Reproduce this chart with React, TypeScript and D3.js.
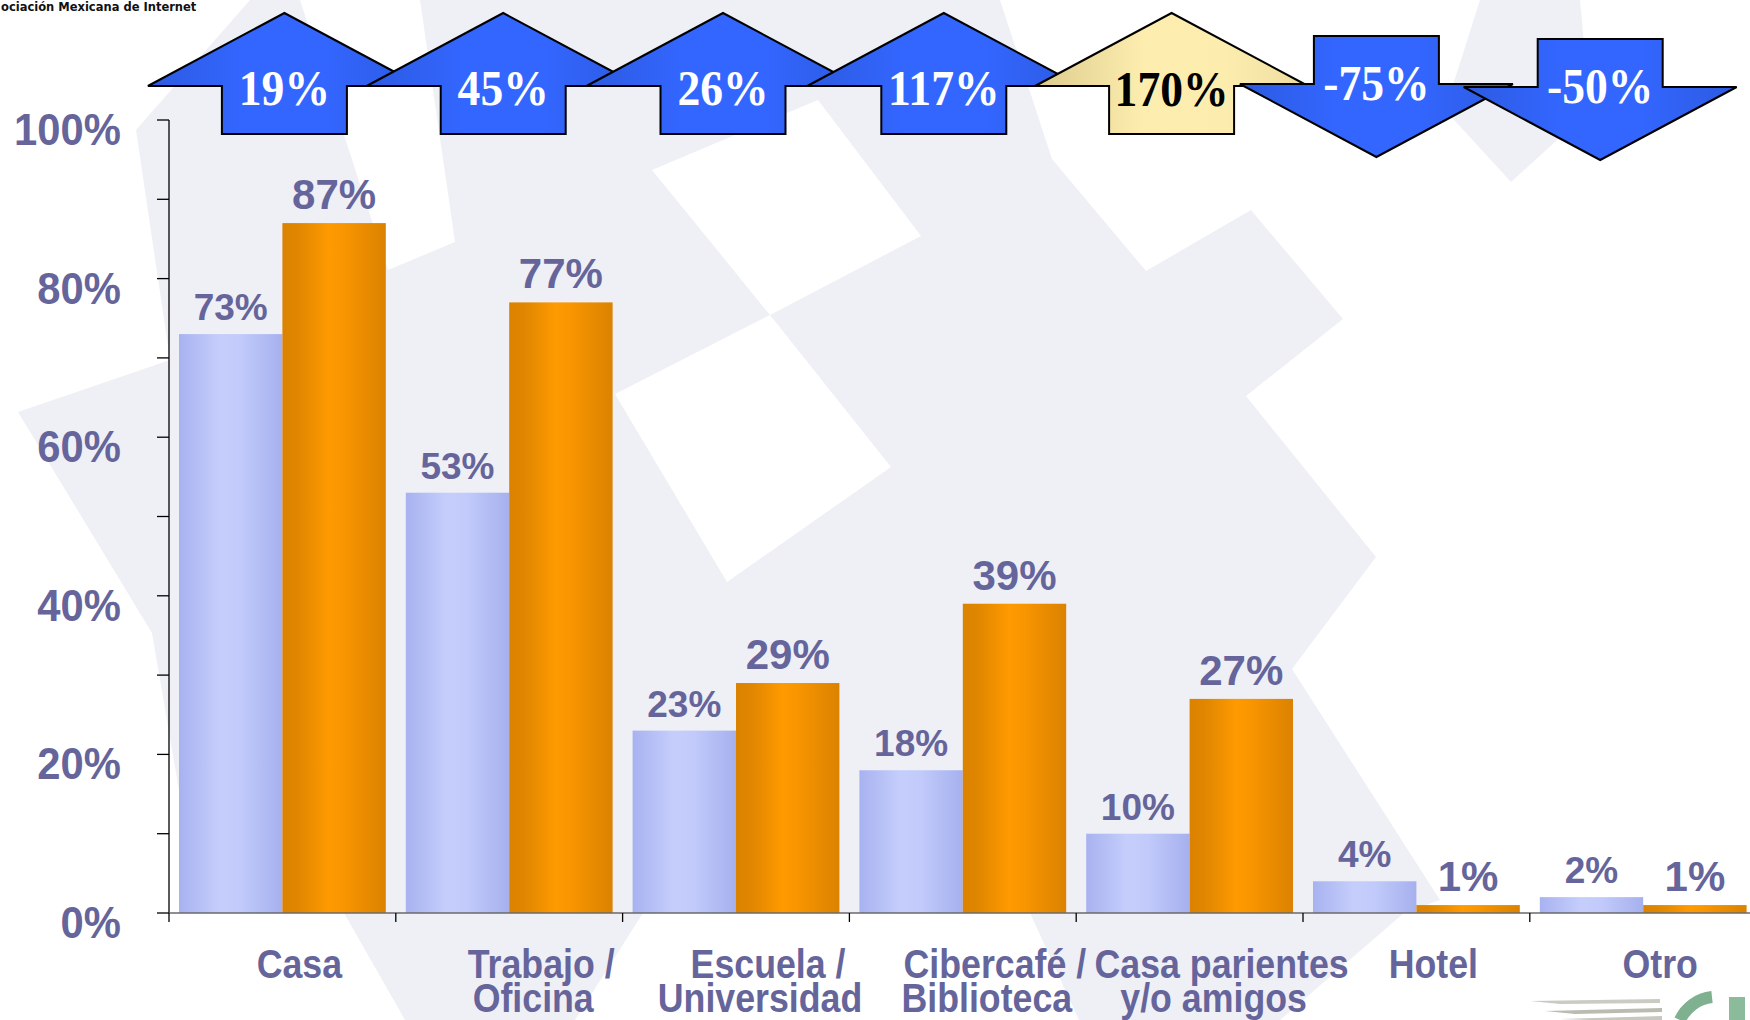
import React from "react";
import * as d3 from "d3";

// ---------- data ----------
const categories = [
  "Casa",
  "Trabajo /\nOficina",
  "Escuela /\nUniversidad",
  "Cibercafé /\nBiblioteca",
  "Casa parientes\ny/o amigos",
  "Hotel",
  "Otro",
];
const seriesKeys = ["anterior", "actual"];
const seriesAnterior = [73, 53, 23, 18, 10, 4, 2];
const seriesActual = [87, 77, 29, 39, 27, 1, 1];
const growth = [19, 45, 26, 117, 170, -75, -50];
const yTickLabels = [0, 20, 40, 60, 80, 100];
const yMinorTicks = [0, 10, 20, 30, 40, 50, 60, 70, 80, 90, 100];
const headerText = "ociación Mexicana de Internet";

// ---------- layout ----------
const W = 1750;
const H = 1020;
const plotLeft = 169;
const plotTop = 120;
const plotBottom = 913;
const bandStep = 226.8;
const arrowShift = [2, -6, -13, -19, -18, -40, -43];
const arrowTopUp = 13;
const arrowTopDown = [36, 39];
const headH = 73;
const shaftH = 48;
const headHW = 136.5;
const shaftHW = 62.5;
const catBaseline = 978;
const catLineGap = 34;
const catSX = 0.94;
const catSY = 1.05;

const TEXT = "#65659b";

const x0 = d3
  .scaleBand<string>()
  .domain(categories)
  .range([plotLeft, plotLeft + bandStep * categories.length])
  .paddingInner(0)
  .paddingOuter(0);
const x1 = d3
  .scaleBand<string>()
  .domain(seriesKeys)
  .range([0, x0.bandwidth()])
  .paddingInner(0)
  .paddingOuter(0.0967);
const y = d3.scaleLinear().domain([0, 100]).range([plotBottom, plotTop]);

function arrowPath(cx: number, top: number, up: boolean) {
  const p = d3.path();
  if (up) {
    p.moveTo(cx, top);
    p.lineTo(cx + headHW, top + headH);
    p.lineTo(cx + shaftHW, top + headH);
    p.lineTo(cx + shaftHW, top + headH + shaftH);
    p.lineTo(cx - shaftHW, top + headH + shaftH);
    p.lineTo(cx - shaftHW, top + headH);
    p.lineTo(cx - headHW, top + headH);
  } else {
    p.moveTo(cx - shaftHW, top);
    p.lineTo(cx + shaftHW, top);
    p.lineTo(cx + shaftHW, top + shaftH);
    p.lineTo(cx + headHW, top + shaftH);
    p.lineTo(cx, top + shaftH + headH);
    p.lineTo(cx - headHW, top + shaftH);
    p.lineTo(cx - shaftHW, top + shaftH);
  }
  p.closePath();
  return p.toString();
}

const bgGrey: [number, number][][] = [
  [
    [136, 130], [250, 0], [1000, 0], [1052, 159], [1146, 271], [1251, 210],
    [1343, 319], [1246, 396], [1376, 557], [1292, 669], [1440, 900],
    [1404, 913], [1280, 1020], [1079, 1020], [1030, 913], [643, 913],
    [575, 1020], [405, 1020], [344, 913], [200, 913], [152, 633],
    [18, 412], [170, 360],
  ],
  [[1480, 0], [1580, 0], [1590, 110], [1511, 182], [1445, 110]],
];
const bgWhite: [number, number][][] = [
  [[652, 170], [818, 100], [921, 236], [770, 315]],
  [[615, 394], [770, 315], [891, 467], [727, 582]],
  [[300, 0], [420, 0], [455, 242], [388, 270]],
];

const poly = (pts: [number, number][]) => "M" + pts.map((p) => p.join(",")).join("L") + "Z";

export default function App() {
  const maxGrowth = d3.max(growth) as number;
  const sans = "'Liberation Sans', Arial, Helvetica, sans-serif";
  const serif = "'Liberation Serif', 'Times New Roman', serif";
  return (
    <svg
      width={W}
      height={H}
      viewBox={`0 0 ${W} ${H}`}
      style={{ position: "absolute", left: 0, top: 0, background: "#fff" }}
    >
      <defs>
        <linearGradient id="gLight" x1="0" x2="1" y1="0" y2="0">
          <stop offset="0" stopColor="#a8b2f0" />
          <stop offset="0.4" stopColor="#c5cefb" />
          <stop offset="0.6" stopColor="#c1cafa" />
          <stop offset="1" stopColor="#a6b0ee" />
        </linearGradient>
        <linearGradient id="gOrange" x1="0" x2="1" y1="0" y2="0">
          <stop offset="0" stopColor="#db8200" />
          <stop offset="0.15" stopColor="#e08600" />
          <stop offset="0.45" stopColor="#ff9a00" />
          <stop offset="0.6" stopColor="#f89500" />
          <stop offset="1" stopColor="#db8200" />
        </linearGradient>
        <linearGradient id="gBlue" x1="0" x2="1" y1="0" y2="0">
          <stop offset="0" stopColor="#2c5ae0" />
          <stop offset="0.35" stopColor="#3366ff" />
          <stop offset="0.65" stopColor="#3366ff" />
          <stop offset="1" stopColor="#2c5ae0" />
        </linearGradient>
        <linearGradient id="gYellow" x1="0" x2="1" y1="0" y2="0">
          <stop offset="0" stopColor="#dccb8c" />
          <stop offset="0.4" stopColor="#fdeeb0" />
          <stop offset="0.7" stopColor="#fcedaf" />
          <stop offset="1" stopColor="#eedc9e" />
        </linearGradient>
      </defs>

      <rect x={0} y={0} width={W} height={H} fill="#ffffff" />
      {bgGrey.map((p, i) => (
        <path key={"g" + i} d={poly(p)} fill="#eff0f6" />
      ))}
      {bgWhite.map((p, i) => (
        <path key={"w" + i} d={poly(p)} fill="#ffffff" />
      ))}

      {/* header text */}
      <text x={1} y={11} fontFamily="'DejaVu Sans', sans-serif" fontWeight="bold" fontSize={11.5} fill="#111">
        {headerText}
      </text>

      {/* y axis */}
      <line x1={plotLeft} x2={plotLeft} y1={y(100)} y2={y(0)} stroke="#000" strokeWidth={1.3} />
      {yMinorTicks.map((t) => (
        <line key={"t" + t} x1={plotLeft - 12} x2={plotLeft} y1={y(t)} y2={y(t)} stroke="#000" strokeWidth={1.3} />
      ))}
      {yTickLabels.map((t) => (
        <text
          key={"yl" + t}
          transform={`translate(121,${y(t) + 25}) scale(0.95,1)`}
          textAnchor="end"
          fontFamily={sans}
          fontWeight="bold"
          fontSize={44}
          fill={TEXT}
        >
          {t}%
        </text>
      ))}

      {/* bars */}
      {categories.map((c, i) => {
        const bx = x0(c) as number;
        const vals = [seriesAnterior[i], seriesActual[i]];
        return (
          <g key={"b" + i}>
            {seriesKeys.map((k, j) => (
              <rect
                key={k}
                x={bx + (x1(k) as number)}
                y={y(vals[j])}
                width={x1.bandwidth()}
                height={y(0) - y(vals[j])}
                fill={j === 0 ? "url(#gLight)" : "url(#gOrange)"}
              />
            ))}
          </g>
        );
      })}

      {/* x axis */}
      <line x1={plotLeft} x2={W} y1={y(0)} y2={y(0)} stroke="#6a6a6a" strokeWidth={1.5} />
      {d3.range(categories.length + 1).map((i) => {
        const tx = plotLeft + i * x0.step();
        return <line key={"xt" + i} x1={tx} x2={tx} y1={y(0)} y2={y(0) + 9} stroke="#000" strokeWidth={1.3} />;
      })}

      {/* bar labels */}
      {categories.map((c, i) => {
        const bx = x0(c) as number;
        const vals = [seriesAnterior[i], seriesActual[i]];
        return seriesKeys.map((k, j) => (
          <text
            key={"bl" + i + k}
            x={bx + (x1(k) as number) + x1.bandwidth() / 2}
            y={y(vals[j]) - 14}
            textAnchor="middle"
            fontFamily={sans}
            fontWeight="bold"
            fontSize={j === 0 ? 37 : 42}
            fill={TEXT}
          >
            {vals[j]}%
          </text>
        ));
      })}

      {/* category labels (one text element per category, wrapped with tspans) */}
      {categories.map((c, i) => {
        const cx = (x0(c) as number) + x0.bandwidth() / 2;
        const lines = c.split("\n");
        return (
          <text
            key={"cl" + i}
            transform={`translate(${cx},${catBaseline}) scale(${catSX},${catSY})`}
            textAnchor="middle"
            fontFamily={sans}
            fontWeight="bold"
            fontSize={38}
            fill={TEXT}
          >
            {lines.map((ln, li) => {
              const off = lines.length === 1 ? 17 : li === 0 ? 32 : 24;
              return (
                <tspan key={li} x={off / catSX} y={(li * catLineGap) / catSY}>
                  {ln}
                </tspan>
              );
            })}
          </text>
        );
      })}

      {/* growth arrows */}
      {categories.map((c, i) => {
        const g = growth[i];
        const up = g >= 0;
        const cx = (x0(c) as number) + x0.bandwidth() / 2 + arrowShift[i];
        const downIdx = growth.slice(0, i).filter((v) => v < 0).length;
        const top = up ? arrowTopUp : arrowTopDown[downIdx];
        const hi = g === maxGrowth;
        const baseline = up ? top + 92 + (hi ? 1 : 0) : top + 64;
        return (
          <g key={"a" + i}>
            <path
              d={arrowPath(cx, top, up)}
              fill={hi ? "url(#gYellow)" : "url(#gBlue)"}
              stroke="#000"
              strokeWidth={2}
              strokeLinejoin="miter"
            />
            <text
              transform={`translate(${cx},${baseline}) scale(0.97,1.06)`}
              textAnchor="middle"
              fontFamily={serif}
              fontWeight="bold"
              fontSize={47}
              fill={hi ? "#000" : "#fff"}
            >
              {g}%
            </text>
          </g>
        );
      })}

      {/* partial logo bottom-right */}
      <g>
        <path d="M1530,1001 L1660,999 L1660,1003 L1560,1004 Z" fill="#c9ccc2" />
        <path d="M1545,1011 L1662,1008 L1662,1012 L1575,1014 Z" fill="#b9bdb1" />
        <path d="M1560,1019 L1662,1016 L1662,1020 L1590,1020 Z" fill="#c6c9bf" />
        <path d="M1712,997 A 40 40 0 0 0 1680,1020" fill="none" stroke="#7fb08f" strokeWidth={12} />
        <rect x={1729} y={997} width={16} height={23} fill="#8bbb9a" />
      </g>
    </svg>
  );
}
